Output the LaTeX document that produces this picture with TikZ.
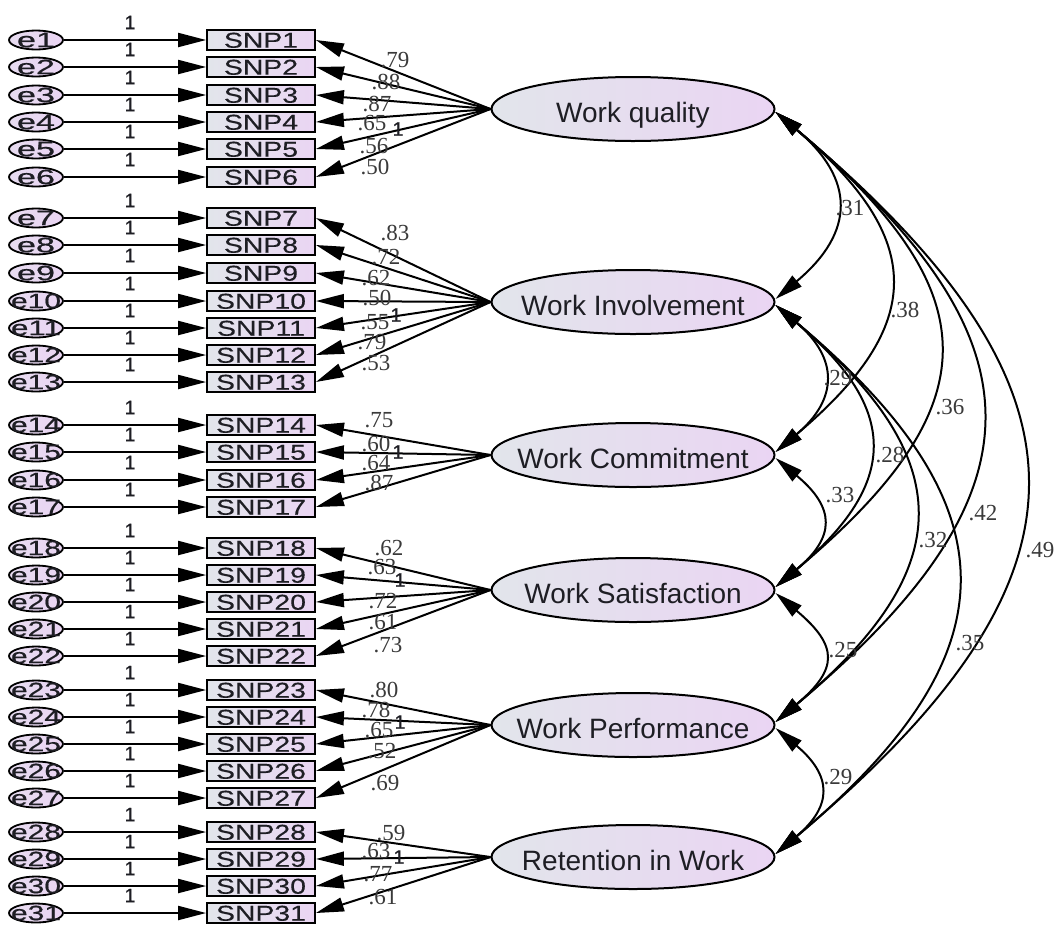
\documentclass[tikz,border=0pt]{standalone}
\usepackage{fontspec}
\usepackage{graphicx}
\setmainfont{Liberation Serif}
\setsansfont{Liberation Sans}
\newfontfamily\snpfont[FakeStretch=1.32,FakeBold=0.4]{Liberation Sans}
\newfontfamily\efont[FakeBold=0.6]{Liberation Sans}
\newfontfamily\onefont[FakeBold=0.5]{Liberation Sans}
\usetikzlibrary{arrows.meta,shapes.geometric,calc}
\definecolor{txt}{HTML}{1E1E24}
\definecolor{num}{HTML}{3A3A3A}
\definecolor{lgray}{HTML}{E2E5EB}
\definecolor{lpurp}{HTML}{EAD5F3}
\newcommand\elab[1]{\ifnum#1<10 \resizebox{38pt}{14.5pt}{\efont e#1}\else\resizebox{50pt}{14.5pt}{\efont e#1}\fi}
\begin{document}
\begin{tikzpicture}[x=1pt,y=-1pt,line width=2pt,
  >={Triangle[length=28pt,width=14pt]},
  errell/.style={ellipse,draw,line width=1.8pt,minimum width=54pt,minimum height=19pt,inner sep=0pt,left color=lgray!40!lpurp,right color=lpurp},
  etext/.style={text=txt,inner sep=0pt},
  snp/.style={rectangle,draw,line width=1.8pt,minimum width=108pt,minimum height=20pt,inner sep=0pt,left color=lgray,right color=lpurp,text=txt,font=\snpfont\fontsize{21.5}{21.5}\selectfont,text height=15.4pt,text depth=0pt},
  latent/.style={ellipse,draw,line width=2pt,minimum width=283pt,minimum height=64pt,inner sep=0pt,left color=lgray,right color=lpurp},
  lattext/.style={font=\sffamily\fontsize{28}{28}\selectfont,text=txt,text height=20pt,text depth=0pt,yshift=-3pt,inner sep=0pt},
  onelab/.style={font=\onefont\fontsize{19.5}{19.5}\selectfont,text=txt,inner sep=0pt},
  numlab/.style={font=\fontsize{23}{23}\selectfont,text=num,inner sep=0pt},
  cov/.style={<->,line width=2pt}]
\useasboundingbox (0,0) rectangle (1059,927);

% latent variables
\node[latent,label={[lattext]center:Work quality}] (WQ) at (633,109) {};
\node[latent,label={[lattext]center:Work Involvement}] (WI) at (633,302) {};
\node[latent,label={[lattext]center:Work Commitment}] (WC) at (633,455) {};
\node[latent,label={[lattext]center:Work Satisfaction}] (WS) at (633,590) {};
\node[latent,label={[lattext]center:Work Performance}] (WP) at (633,725) {};
\node[latent,label={[lattext]center:Retention in Work}] (RW) at (633,857) {};

% indicators and errors
\foreach \i/\y in {1/40,2/67,3/95,4/122,5/149,6/177,7/218,8/245,9/273,10/301,11/328,12/355,13/382,14/425,15/452,16/480,17/507,18/548,19/575,20/602,21/629,22/656,23/690,24/717,25/744,26/771,27/798,28/832,29/859,30/886,31/913}{
  \node[errell,label={[etext]center:\elab{\i}}] (e\i) at (36,\y) {};
  \node[snp] (s\i) at (261,\y) {SNP\i};
  \draw[->] (e\i) -- (s\i);
  \node[onelab] at (130,{\y-17.5}) {1};
}

% loadings
\foreach \i in {1,...,6} \draw[->] (WQ.west) -- (s\i.east);
\foreach \i in {7,...,13} \draw[->] (WI.west) -- (s\i.east);
\foreach \i in {14,...,17} \draw[->] (WC.west) -- (s\i.east);
\foreach \i in {18,...,22} \draw[->] (WS.west) -- (s\i.east);
\foreach \i in {23,...,27} \draw[->] (WP.west) -- (s\i.east);
\foreach \i in {28,...,31} \draw[->] (RW.west) -- (s\i.east);

% loading labels
\foreach \t/\x/\y in {.79/395/60,.88/386/82,.87/377/104,.65/372/123,.56/374/146,.50/375/167,
  .83/395/233,.72/386/257,.62/376/278,.50/377/298,.55/375/322,.79/372/342,.53/376/363,
  .75/379/420,.60/376/444,.64/376/463,.87/379/483,
  .62/389/548,.63/382/567,.72/383/601,.61/383/622,.73/388/645,
  .80/384/690,.78/376/710,.65/379/730,.52/382/751,.69/385/783,
  .59/391/833,.63/376/851,.77/378/874,.61/383/897}
  \node[numlab] at (\x,\y) {\t};
\foreach \x/\y in {398/129,396/315,398/452,400/580,400/722,399/857}
  \node[onelab] at (\x,\y) {1};

% covariances
\draw[cov] ($(WQ.east)+(0,3)$) .. controls +(80,67) and +(80,-67) .. ($(WI.east)+(0,-3)$);
\draw[cov] ($(WQ.east)+(0,3)$) .. controls +(151,127) and +(151,-127) .. ($(WC.east)+(0,-3)$);
\draw[cov] ($(WQ.east)+(0,3)$) .. controls +(216,181) and +(216,-181) .. ($(WS.east)+(0,-3)$);
\draw[cov] ($(WQ.east)+(0,3)$) .. controls +(273,229) and +(273,-229) .. ($(WP.east)+(0,-3)$);
\draw[cov] ($(WQ.east)+(0,3)$) .. controls +(331,278) and +(331,-278) .. ($(RW.east)+(0,-3)$);
\draw[cov] ($(WI.east)+(0,3)$) .. controls +(63,53) and +(63,-53) .. ($(WC.east)+(0,-3)$);
\draw[cov] ($(WI.east)+(0,3)$) .. controls +(124,104) and +(124,-104) .. ($(WS.east)+(0,-3)$);
\draw[cov] ($(WI.east)+(0,3)$) .. controls +(184,154) and +(184,-154) .. ($(WP.east)+(0,-3)$);
\draw[cov] ($(WI.east)+(0,3)$) .. controls +(240,201) and +(240,-201) .. ($(RW.east)+(0,-3)$);
\draw[cov] ($(WC.east)+(0,3)$) .. controls +(60,50) and +(60,-50) .. ($(WS.east)+(0,-3)$);
\draw[cov] ($(WS.east)+(0,3)$) .. controls +(63,53) and +(63,-53) .. ($(WP.east)+(0,-3)$);
\draw[cov] ($(WP.east)+(0,3)$) .. controls +(57,48) and +(57,-48) .. ($(RW.east)+(0,-3)$);

\foreach \t/\x/\y in {.31/850/208,.38/905/310,.36/950/407,.42/983/513,.49/1040/550,
  .29/838/378,.28/890/455,.32/933/540,.35/970/643,.33/840/495,.25/843/650,.29/838/777}
  \node[numlab] at (\x,\y) {\t};
\end{tikzpicture}
\end{document}
